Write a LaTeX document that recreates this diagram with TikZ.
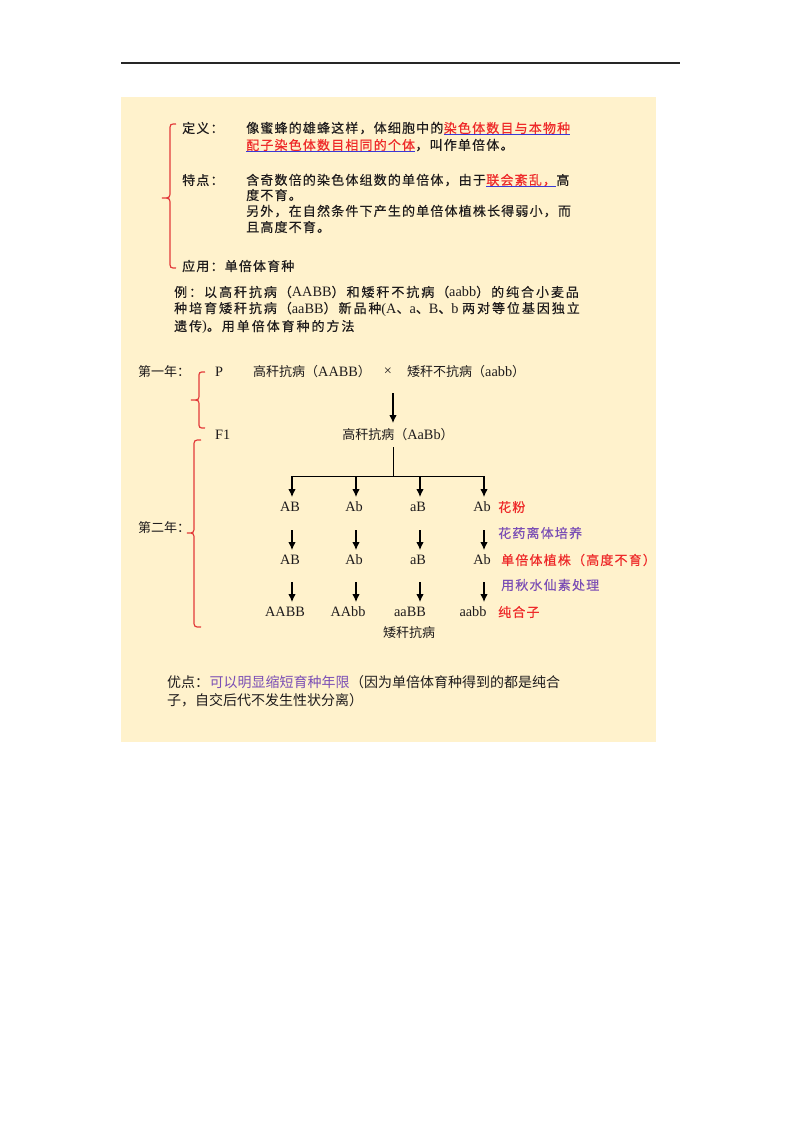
\documentclass[tikz,border=0pt]{standalone}
\usepackage{fontspec}
\setmainfont{Liberation Serif}[Scale=1.1]
\newfontfamily\cjk{Noto Sans CJK SC}
\newfontfamily\cjks[LetterSpace=9,FakeBold=0.4]{Noto Sans CJK SC}
\newfontfamily\cjkp[LetterSpace=15,FakeBold=0.4]{Noto Sans CJK SC}
\usetikzlibrary{arrows.meta}
\definecolor{bg}{HTML}{FFF2CC}
\definecolor{ink}{HTML}{1E1B1C}
\definecolor{redt}{HTML}{EE2A2A}
\definecolor{purp}{HTML}{7B4FB5}
\definecolor{ulblue}{HTML}{3A3AD8}
\definecolor{brc}{HTML}{E23A3A}
\newcommand\lat[1]{{\rmfamily #1}}
\tikzset{
  t/.style={inner sep=0pt, anchor=west, text=ink, font=\fontsize{13}{16}\selectfont\cjks},
  p/.style={inner sep=0pt, anchor=west, text=ink, font=\fontsize{13}{16}\selectfont\cjkp},
  m/.style={inner sep=0pt, text=ink, font=\fontsize{13}{16}\selectfont\cjk},
  g/.style={inner sep=0pt, text=ink, font=\fontsize{13}{16}\selectfont\rmfamily},
  b/.style={inner sep=0pt, anchor=west, text=ink, font=\fontsize{14}{17}\selectfont\cjk},
  ul/.style={draw=ulblue, line width=1pt},
  brace/.style={draw=brc, line width=1.2pt},
  ln/.style={draw=black, line width=1pt},
  arr/.style={draw=black, line width=1.1pt, -{Latex[length=8pt,width=7.5pt]}}
}
\begin{document}
\begin{tikzpicture}[x=1pt,y=-1pt]
\useasboundingbox (0,0) rectangle (800,1132);
\fill[white] (0,0) rectangle (800,1132);
\draw[line width=1.5pt, draw=black!85] (121,63) -- (680,63);
\fill[bg] (121,97) rectangle (656,742);

% ---------- top section ----------
\draw[brace] (176,124) .. controls (170,124) .. (170,131) -- (170,191)
  .. controls (170,198) .. (162,198) .. controls (170,198) .. (170,205)
  -- (170,261) .. controls (170,268) .. (176,268);

\node[t] (def) at (182,128) {定义：};
\node[t] (d1a) at (246,128) {像蜜蜂的雄蜂这样，体细胞中的};
\node[t, text=redt] (d1b) at (d1a.east) {染色体数目与本物种};
\node[t, text=redt] (d2a) at (246,145) {配子染色体数目相同的个体};
\node[t] (d2b) at (d2a.east) {，叫作单倍体。};
\draw[ul] (d1b.south west) -- (d1b.south east);
\draw[ul] (d2a.south west) -- (d2a.south east);

\node[t] (feat) at (182,180) {特点：};
\node[t] (f1a) at (246,180) {含奇数倍的染色体组数的单倍体，由于};
\node[t, text=redt] (f1b) at (f1a.east) {联会紊乱，};
\node[t] (f1c) at (f1b.east) {高};
\draw[ul] (f1b.south west) -- (f1b.south east);
\node[t] (f2) at (246,195) {度不育。};
\node[t] (f3) at (246,211) {另外，在自然条件下产生的单倍体植株长得弱小，而};
\node[t] (f4) at (246,227) {且高度不育。};

\node[t] (app) at (182,266) {应用：单倍体育种};

\node[p] (ex1) at (174,292) {例：以高秆抗病（\lat{AABB}）和矮秆不抗病（\lat{aabb}）的纯合小麦品};
\node[p] (ex2) at (174,309) {种培育矮秆抗病（\lat{aaBB}）新品种\lat{(A}、\lat{a}、\lat{B}、\lat{b }两对等位基因独立};
\node[p] (ex3) at (174,327) {遗传\lat{)}。用单倍体育种的方法};

% ---------- middle section ----------
\node[m, anchor=west] (y1) at (138,372) {第一年：};
\draw[brace] (205,372) .. controls (199,372) .. (199,378) -- (199,394)
  .. controls (199,400) .. (191,400) .. controls (199,400) .. (199,406)
  -- (199,422) .. controls (199,428) .. (205,428);
\node[g, anchor=west] (Plab) at (215,372) {P};
\node[m, anchor=west] (pa1) at (253,372) {高秆抗病（\lat{AABB}）};
\node[g] (cross) at (388,372) {×};
\node[m, anchor=west] (pa2) at (407,372) {矮秆不抗病（\lat{aabb}）};

\node[g, anchor=west] (F1lab) at (215,435) {F1};
\node[m] (f1) at (398,435) {高秆抗病（\lat{AaBb}）};

\coordinate (pa) at (393,372);
\draw[arr, shorten <=21pt, shorten >=12pt] (pa) -- (f1.center -| pa);

\node[m, anchor=west] (y2) at (138,528) {第二年：};
\draw[brace] (201,440) .. controls (194,440) .. (194,447) -- (194,526)
  .. controls (194,533) .. (187,533) .. controls (194,533) .. (194,540)
  -- (194,620) .. controls (194,627) .. (201,627);

\coordinate (split) at (393,476);
\coordinate (hl) at (292,476);
\coordinate (hr) at (484,476);
\draw[ln, shorten <=12pt] (f1.center -| split) -- (split);
\draw[ln] (hl) -- (hr);

% rows
\node[g] (r1c1) at (290,507) {AB};
\node[g] (r1c2) at (354,507) {Ab};
\node[g] (r1c3) at (418,507) {aB};
\node[g] (r1c4) at (482,507) {Ab};
\node[g] (r2c1) at (290,560) {AB};
\node[g] (r2c2) at (354,560) {Ab};
\node[g] (r2c3) at (418,560) {aB};
\node[g] (r2c4) at (482,560) {Ab};
\node[g] (r3c1) at (285,612) {AABB};
\node[g] (r3c2) at (348,612) {AAbb};
\node[g] (r3c3) at (410,612) {aaBB};
\node[g] (r3c4) at (473,612) {aabb};

\coordinate (k1) at (292,0);
\coordinate (k2) at (356,0);
\coordinate (k3) at (420,0);
\coordinate (k4) at (484,0);

\foreach \i in {1,2,3,4}{
  \draw[arr, shorten >=10pt] (k\i |- split) -- (k\i |- r1c\i.center);
  \draw[arr, shorten <=23pt, shorten >=10pt] (k\i |- r1c\i.center) -- (k\i |- r2c\i.center);
  \draw[arr, shorten <=22pt, shorten >=10pt] (k\i |- r2c\i.center) -- (k\i |- r3c\i.center);
}

\node[t, text=redt] (lab1) at (498,507) {花粉};
\node[t, text=purp] (lab2) at (498,533) {花药离体培养};
\node[t, text=redt] (lab3) at (501,560) {单倍体植株（高度不育）};
\node[t, text=purp] (lab4) at (501,585) {用秋水仙素处理};
\node[t, text=redt] (lab5) at (498,612) {纯合子};
\node[m] (dwarf) at (409,633) {矮秆抗病};

% ---------- bottom ----------
\node[b] (adv1) at (167,682) {优点：};
\node[b, text=purp] (adv2) at (adv1.east) {可以明显缩短育种年限};
\node[b] (adv3) at (adv2.east) {（因为单倍体育种得到的都是纯合};
\node[b] (adv4) at (167,700) {子，自交后代不发生性状分离）};
\end{tikzpicture}
\end{document}
